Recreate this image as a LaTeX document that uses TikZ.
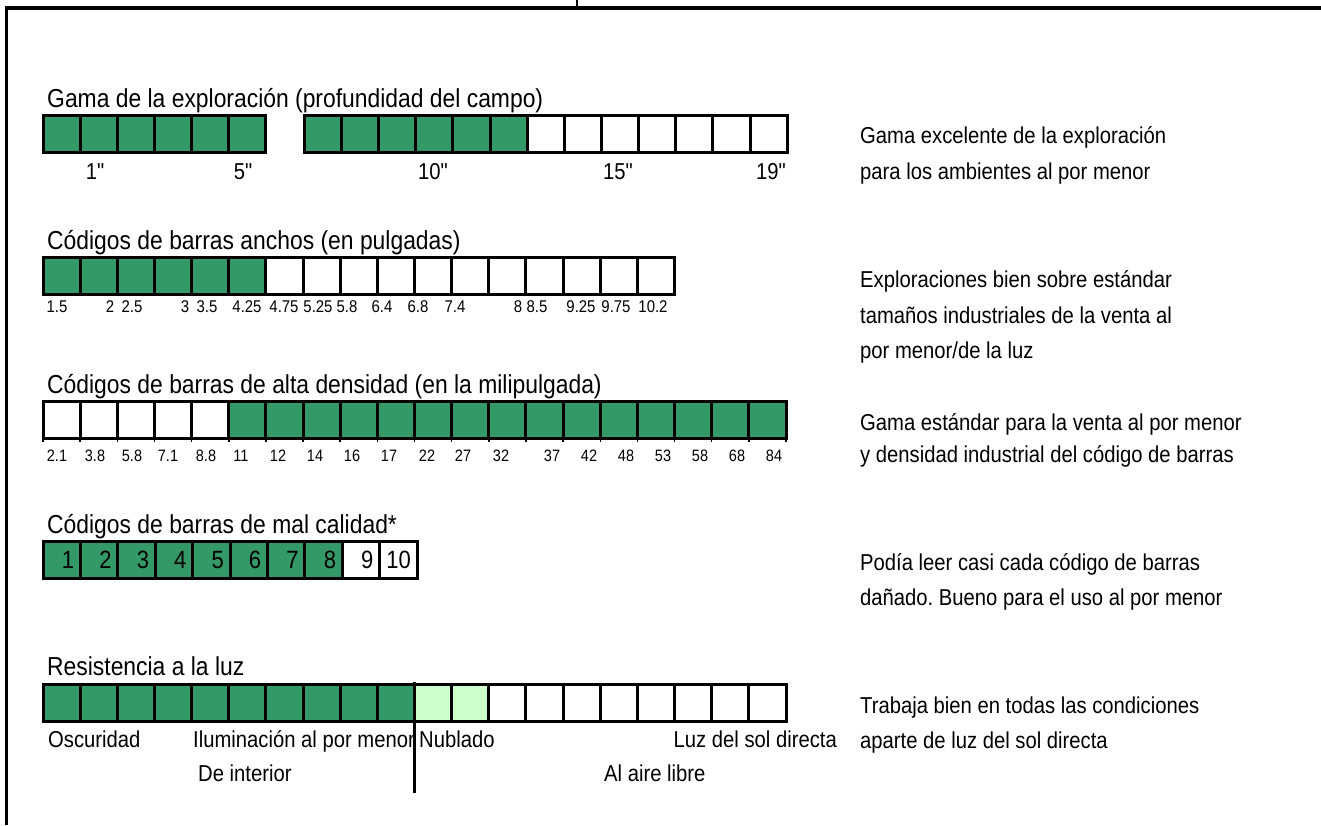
\documentclass[tikz,border=0pt]{standalone}
\usepackage{fontspec}
\setmainfont{Liberation Sans}[FakeStretch=0.88,Ligatures=TeXOff]
\frenchspacing
\definecolor{barGreen}{RGB}{51,153,102}
\definecolor{barLight}{RGB}{204,255,204}
\newcommand\headsize{\fontsize{26}{30}\selectfont}
\newcommand\remsize{\fontsize{23}{27}\selectfont}
\newcommand\numsize{\fontsize{25}{29}\selectfont}
\newcommand\scalesize{\fontsize{17}{20}\selectfont}
\newcommand\milsize{\fontsize{16.5}{20}\selectfont}
\tikzset{
  heading/.style={anchor=base west,inner sep=0pt,font=\headsize},
  remark/.style={anchor=base west,inner sep=0pt,font=\remsize},
  scalelab/.style={anchor=base,inner sep=0pt},
  cell/.style={line width=3pt,draw=black}
}
\def\boxw{37.15}
\def\boxh{37}
\def\barx{43}
\def\remx{860}

\begin{document}
\begin{tikzpicture}[x=1pt,y=-1pt]
  \useasboundingbox (0,0) rectangle (1321,825);
  % frame
  \draw[line width=2.5pt] (6.5,825) -- (6.5,6);
  \draw[line width=4pt] (5,8) -- (1321,8);
  \draw[line width=1.5pt] (577,0) -- (577,7);

  % range (depth of field)
  \node[heading] (head1) at (47,107) {Gama de la exploración (profundidad del campo)};
  \foreach \i in {0,...,5}
    \draw[cell,fill=barGreen] (\barx+\i*\boxw,115) rectangle +(\boxw,\boxh);
  \foreach \i in {0,...,12} {
    \ifnum\i<6 \def\c{barGreen}\else\def\c{white}\fi
    \draw[cell,fill=\c] (304.3+\i*\boxw,115) rectangle +(\boxw,\boxh);
  }
  \foreach \x/\t [count=\i] in {95/1",243/5",433/10",618/15",771/19"}
    \node[scalelab,font=\remsize] (range-\i) at (\x,179) {\t};
  \node[remark] (rem1a) at (\remx,143) {Gama excelente de la exploración};
  \node[remark] (rem1b) at (\remx,179) {para los ambientes al por menor};

  % wide barcodes
  \node[heading] (head2) at (47,249) {Códigos de barras anchos (en pulgadas)};
  \foreach \i in {0,...,16} {
    \ifnum\i<6 \def\c{barGreen}\else\def\c{white}\fi
    \draw[cell,fill=\c] (\barx+\i*\boxw,257) rectangle +(\boxw,\boxh);
  }
  \foreach \x/\t [count=\i] in {57/1.5,110/2,132/2.5,185/3,207/3.5,247/4.25,284/4.75,
      318/5.25,347/5.8,382/6.4,418/6.8,455/7.4,518/8,537/8.5,581/9.25,616/9.75,653/10.2}
    \node[scalelab,font=\scalesize] (wide-\i) at (\x,312) {\t};
  \node[remark] (rem2a) at (\remx,287) {Exploraciones bien sobre estándar};
  \node[remark] (rem2b) at (\remx,323) {tamaños industriales de la venta al};
  \node[remark] (rem2c) at (\remx,358) {por menor/de la luz};

  % high density barcodes
  \node[heading] (head3) at (47,393) {Códigos de barras de alta densidad (en la milipulgada)};
  \foreach \i in {0,...,19} {
    \ifnum\i<5 \def\c{white}\else\def\c{barGreen}\fi
    \draw[cell,fill=\c] (\barx+\i*\boxw,401) rectangle +(\boxw,\boxh);
  }
  \foreach \i in {0,...,20}
    \draw[line width=1.5pt] (\barx+\i*\boxw,438) -- +(0,4);
  \foreach \x/\t [count=\i] in {57/2.1,95/3.8,132/5.8,168/7.1,206/8.8,241/11,278/12,315/14,
      352/16,389/17,427/22,463/27,501/32,552/37,589/42,626/48,663/53,700/58,737/68,774/84}
    \node[scalelab,font=\milsize] (mil-\i) at (\x,461) {\t};
  \node[remark] (rem3a) at (\remx,430) {Gama estándar para la venta al por menor};
  \node[remark] (rem3b) at (\remx,462) {y densidad industrial del código de barras};

  % poor quality barcodes
  \node[heading] (head4) at (47,533) {Códigos de barras de mal calidad*};
  \foreach \i in {1,...,10} {
    \ifnum\i<9 \def\c{barGreen}\else\def\c{white}\fi
    \draw[cell,fill=\c] (\barx+\i*37.4-37.4,541) rectangle +(37.4,\boxh);
    \node[anchor=base east,inner sep=0pt,font=\numsize] (poor-\i) at (\barx+\i*37.4-6,568) {\i};
  }
  \node[remark] (rem4a) at (\remx,570) {Podía leer casi cada código de barras};
  \node[remark] (rem4b) at (\remx,605) {dañado. Bueno para el uso al por menor};

  % light resistance
  \node[heading] (head5) at (47,675) {Resistencia a la luz};
  \foreach \i in {0,...,19} {
    \ifnum\i<10 \def\c{barGreen}\else\ifnum\i<12 \def\c{barLight}\else\def\c{white}\fi\fi
    \draw[cell,fill=\c] (\barx+\i*\boxw,684) rectangle +(\boxw,\boxh);
  }
  \coordinate (divtop) at (\barx+10*\boxw,682);
  \coordinate (divbot) at (\barx+10*\boxw,793);
  \draw[line width=3pt] (divtop) -- (divbot);
  \node[remark] (dark) at (48,747) {Oscuridad};
  \node[remark] (retail) at (193,747) {Iluminación al por menor};
  \node[remark] (cloud) at (419,747) {Nublado};
  \node[remark,anchor=base east] (sun) at (837,747) {Luz del sol directa};
  \node[remark] (indoor) at (198,781) {De interior};
  \node[remark] (outdoor) at (604,781) {Al aire libre};
  \node[remark] (rem5a) at (\remx,713) {Trabaja bien en todas las condiciones};
  \node[remark] (rem5b) at (\remx,748) {aparte de luz del sol directa};
\end{tikzpicture}
\end{document}
